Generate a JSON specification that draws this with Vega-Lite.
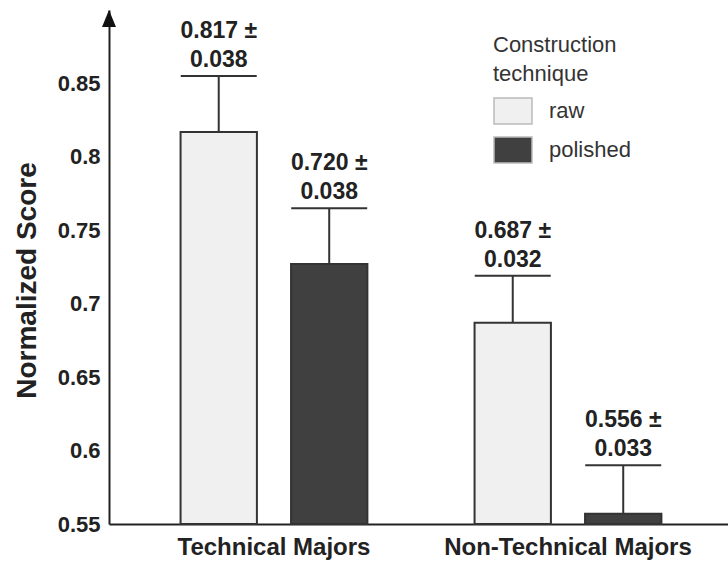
{
  "$schema": "https://vega.github.io/schema/vega-lite/v6.json",
  "width": 619,
  "height": 514,
  "autosize": {"type": "none"},
  "padding": {"left": 109, "top": 10, "right": 0, "bottom": 37},
  "background": "white",
  "config": {
    "view": {"stroke": null},
    "font": "Liberation Sans",
    "axisX": {"domainColor": "#222", "domainWidth": 2, "ticks": false, "grid": false, "labelFontSize": 24, "labelFontWeight": "bold", "labelColor": "#222", "labelPadding": 11, "labelAngle": 0, "labelLimit": 0},
    "axisY": {"domainColor": "#222", "domainWidth": 2, "ticks": false, "grid": false, "labelFontSize": 22, "labelFontWeight": "bold", "labelColor": "#222", "labelPadding": 9, "titleFontSize": 28, "titleFontWeight": "bold", "titleColor": "#222", "titlePadding": 16}
  },
  "data": {"values": [
    {"group": "Technical Majors", "technique": "raw", "value": 0.817, "upper": 0.855, "label": "0.817 ±\n0.038"},
    {"group": "Technical Majors", "technique": "polished", "value": 0.727, "upper": 0.765, "label": "0.720 ±\n0.038"},
    {"group": "Non-Technical Majors", "technique": "raw", "value": 0.687, "upper": 0.719, "label": "0.687 ±\n0.032"},
    {"group": "Non-Technical Majors", "technique": "polished", "value": 0.557, "upper": 0.590, "label": "0.556 ±\n0.033"}
  ]},
  "layer": [
    {
      "mark": {"type": "bar", "stroke": "#333", "strokeWidth": 2},
      "encoding": {
        "x": {"field": "group", "type": "nominal", "sort": ["Technical Majors", "Non-Technical Majors"], "title": null, "scale": {"paddingInner": 0, "paddingOuter": 0.0527, "align": 0.58}},
        "xOffset": {"field": "technique", "type": "nominal", "sort": ["raw", "polished"], "scale": {"paddingInner": 0.309, "paddingOuter": 0.485}},
        "y": {"field": "value", "type": "quantitative", "title": "Normalized Score", "scale": {"domain": [0.55, 0.9], "zero": false, "nice": false}, "axis": {"values": [0.55, 0.6, 0.65, 0.7, 0.75, 0.8, 0.85], "format": "~g", "titleY": 270}},
        "y2": {"datum": 0.55},
        "color": {"field": "technique", "type": "nominal", "sort": ["raw", "polished"], "scale": {"domain": ["raw", "polished"], "range": ["#f0f0f0", "#404040"]},
          "legend": {"orient": "none", "legendX": 384, "legendY": 25, "title": ["Construction", "technique"], "titleFontSize": 22, "titleFontWeight": "normal", "titleColor": "#333", "titleLineHeight": 29, "titlePadding": 5, "labelFontSize": 22, "labelColor": "#333", "labelOffset": 16, "symbolType": "M-1,-0.684L1,-0.684L1,0.684L-1,0.684Z", "symbolSize": 1444, "symbolStrokeColor": "#bbbbbb", "symbolStrokeWidth": 1.5, "rowPadding": 3, "padding": 0}}
      }
    },
    {
      "mark": {"type": "rule", "color": "#333", "strokeWidth": 2},
      "encoding": {
        "x": {"field": "group", "type": "nominal", "sort": ["Technical Majors", "Non-Technical Majors"], "title": null},
        "xOffset": {"field": "technique", "type": "nominal", "sort": ["raw", "polished"]},
        "y": {"field": "value", "type": "quantitative", "title": "Normalized Score"},
        "y2": {"field": "upper"}
      }
    },
    {
      "mark": {"type": "tick", "color": "#333", "thickness": 2, "size": 76, "opacity": 1},
      "encoding": {
        "x": {"field": "group", "type": "nominal", "sort": ["Technical Majors", "Non-Technical Majors"], "title": null},
        "xOffset": {"field": "technique", "type": "nominal", "sort": ["raw", "polished"]},
        "y": {"field": "upper", "type": "quantitative", "title": "Normalized Score"}
      }
    },
    {
      "mark": {"type": "text", "fontSize": 23, "fontWeight": "bold", "baseline": "bottom", "dy": -33, "lineBreak": "\n", "lineHeight": 29, "color": "#222"},
      "encoding": {
        "x": {"field": "group", "type": "nominal", "sort": ["Technical Majors", "Non-Technical Majors"], "title": null},
        "xOffset": {"field": "technique", "type": "nominal", "sort": ["raw", "polished"]},
        "y": {"field": "upper", "type": "quantitative", "title": "Normalized Score"},
        "text": {"field": "label"}
      }
    },
    {
      "data": {"values": [{"top": 0.9}]},
      "mark": {"type": "point", "filled": true, "color": "#111", "opacity": 1, "size": 289, "shape": "M0,0L0.82,2L-0.82,2Z"},
      "encoding": {
        "x": {"value": 0},
        "y": {"field": "top", "type": "quantitative", "title": "Normalized Score"}
      }
    }
  ]
}
